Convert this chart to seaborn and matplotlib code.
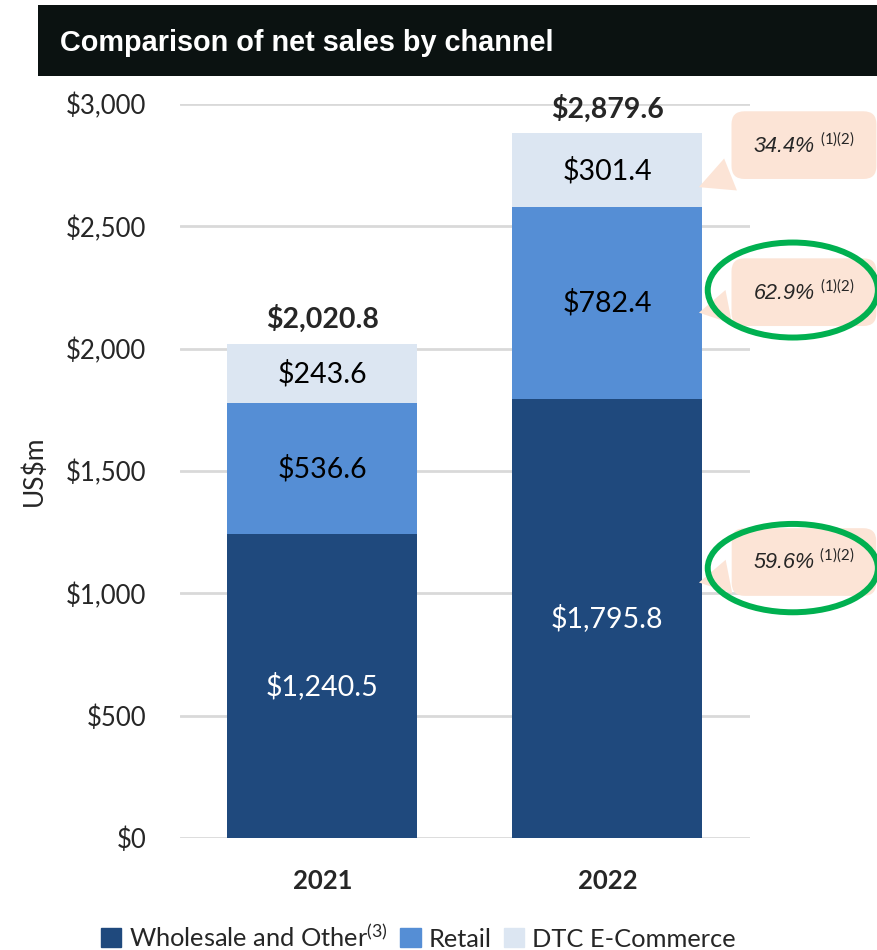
import pandas as pd
import matplotlib.pyplot as plt
import seaborn as sns
from matplotlib.patches import Rectangle, Ellipse, Patch

# Данные (US$m)
years = ['2021', '2022']
wholesale = [1240.5, 1795.8]
retail = [536.6, 782.4]
dtc = [243.6, 301.4]
totals = [2020.8, 2879.6]
growth = ['34.4%', '62.9%', '59.6%']  # DTC, Retail, Wholesale
y_ticks = [0, 500, 1000, 1500, 2000, 2500, 3000]

c_whole = '#1f497d'
c_retail = '#558ed5'
c_dtc = '#dce6f2'
c_call = '#fce4d6'
c_green = '#00b050'

sns.set_theme(style='white')
plt.rcParams['font.family'] = ['Lato', 'DejaVu Sans']
plt.rcParams['mathtext.fontset'] = 'custom'
plt.rcParams['mathtext.rm'] = 'Lato'
plt.rcParams['mathtext.it'] = 'Liberation Sans:italic'
plt.rcParams['mathtext.default'] = 'regular'

df = pd.DataFrame({'year': years, 'wholesale': wholesale, 'retail': retail, 'dtc': dtc})
df['cum_retail'] = df['wholesale'] + df['retail']
df['cum_dtc'] = df['cum_retail'] + df['dtc']

fig = plt.figure(figsize=(8.77, 9.5), dpi=100)
ax = fig.add_axes([0.205, 0.1179, 0.65, 0.7726])

# Стек: рисуем накопленные суммы сзади наперёд
bar_kw = dict(width=0.667, ax=ax, saturation=1, linewidth=0, edgecolor='none')
sns.barplot(data=df, x='year', y='cum_dtc', color=c_dtc, zorder=2, **bar_kw)
sns.barplot(data=df, x='year', y='cum_retail', color=c_retail, zorder=3, **bar_kw)
sns.barplot(data=df, x='year', y='wholesale', color=c_whole, zorder=4, **bar_kw)

for i in range(len(years)):
    ax.text(i, wholesale[i] / 2, f'${wholesale[i]:,.1f}', ha='center', va='center',
            color='white', fontsize=20.5, zorder=5)
    ax.text(i, wholesale[i] + retail[i] / 2, f'${retail[i]:,.1f}', ha='center', va='center',
            color='black', fontsize=20.5, zorder=5)
    ax.text(i, df['cum_retail'][i] + dtc[i] / 2, f'${dtc[i]:,.1f}', ha='center', va='center',
            color='black', fontsize=20.5, zorder=5)
    ax.annotate(f'${totals[i]:,.1f}', (i, totals[i]), xytext=(0, 18), textcoords='offset points',
                ha='center', va='center', fontsize=20.5, fontweight='bold')

ax.set_xlim(-0.5, 1.5)
ax.set_ylim(0, 3000)
ax.set_yticks(y_ticks)
ax.set_yticklabels([f'${v:,}' for v in y_ticks], fontsize=18.5)
ax.set_xticklabels(years, fontsize=18.5, fontweight='bold')
ax.tick_params(axis='x', pad=22, length=0)
ax.tick_params(axis='y', pad=24, length=0)
ax.set_xlabel('')
ax.set_ylabel('US$m', fontsize=19, labelpad=14)
ax.yaxis.grid(True, color='#d9d9d9', linewidth=2, zorder=0)
ax.set_axisbelow(True)
sns.despine(ax=ax, left=True, bottom=True)

# Выноски с ростом
call_pos = [(2656, 2832), (2145, 2231), (1042, 1128)]
for g, (tip, ty) in zip(growth, call_pos):
    ax.annotate(g + r' $^{\mathit{(1)(2)}}$', xy=(1.312, tip), xytext=(1.69, ty),
                fontsize=15.5, style='italic', family='Liberation Sans', ha='center', va='center',
                bbox=dict(boxstyle='round,pad=1.0,rounding_size=0.6', fc=c_call, ec='none'),
                arrowprops=dict(arrowstyle='wedge,tail_width=1.6,shrink_factor=0.5', fc=c_call, ec='none'),
                annotation_clip=False, zorder=6)

for cy, h in [(0.6947, 0.1), (0.402, 0.093)]:
    fig.add_artist(Ellipse((0.904, cy), 0.194, h, transform=fig.transFigure, fill=False,
                           ec=c_green, lw=4.3, zorder=7))

# Заголовок
fig.add_artist(Rectangle((0.0433, 0.92), 0.96, 0.0747, transform=fig.transFigure,
                         fc='#0b1211', ec='none', zorder=0))
fig.text(0.068, 0.9547, 'Comparison of net sales by channel', color='white', fontsize=20.8,
         fontweight='bold', family='Liberation Sans', va='center', ha='left')

handles = [Patch(color=c_whole, label=r'Wholesale and Other$^{(3)}$'),
           Patch(color=c_retail, label='Retail'),
           Patch(color=c_dtc, label='DTC E-Commerce')]
fig.legend(handles=handles, loc='center', bbox_to_anchor=(0.477, 0.0137), ncol=3, frameon=False,
           fontsize=18.3, handlelength=0.8, handleheight=0.8, handletextpad=0.3, columnspacing=0.5)

plt.savefig('out.png', dpi=100)
